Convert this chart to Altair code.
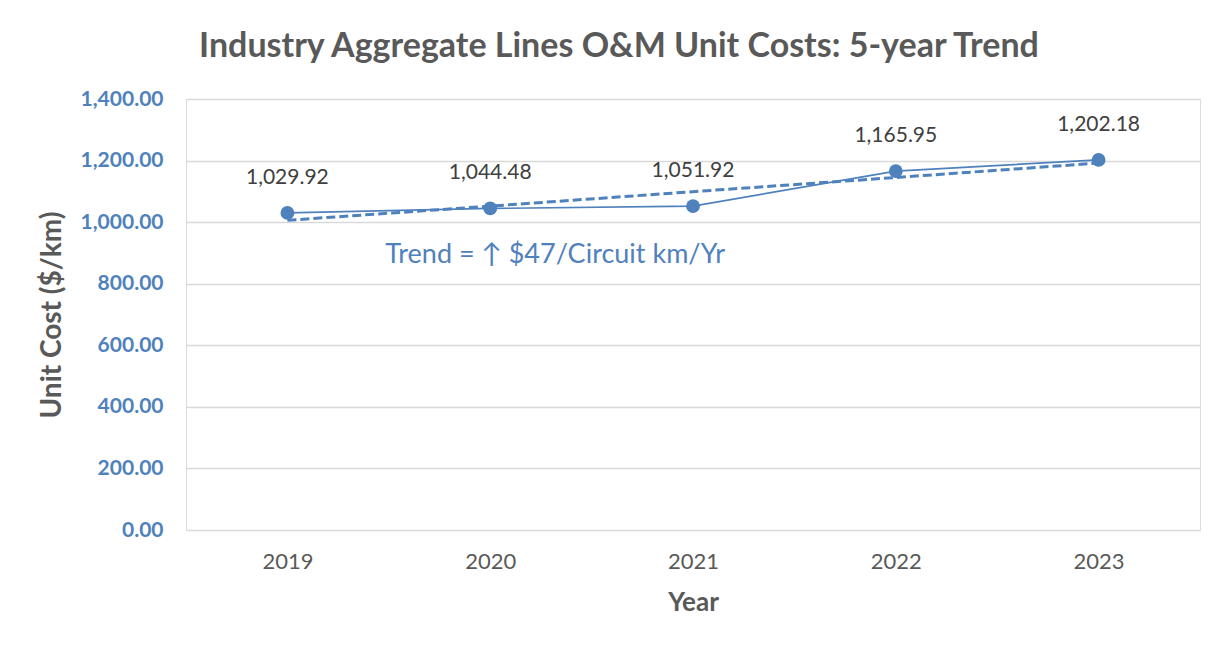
import altair as alt
import pandas as pd

years = ["2019", "2020", "2021", "2022", "2023"]
unit_cost = [1029.92, 1044.48, 1051.92, 1165.95, 1202.18]
trend = [1006, 1052, 1099, 1145, 1192]
y_ticks = [0, 200, 400, 600, 800, 1000, 1200, 1400]
note_text = ["Trend = \u2191 $47/Circuit km/Yr"]
note_year = ["2020"]
note_value = [893]

BLUE = "#4F81BD"
GRAY = "#595959"
FONT = "Lato"

df = pd.DataFrame({"Year": years, "Cost": unit_cost, "Trend": trend})
note = pd.DataFrame({"Year": note_year, "Cost": note_value, "Text": note_text})

x = alt.X("Year:N", sort=years, title="Year",
          scale=alt.Scale(paddingInner=0, paddingOuter=0, align=0.5),
          axis=alt.Axis(labelAngle=0, labelColor=GRAY, labelFontSize=22, labelFont=FONT,
                        labelPadding=21, ticks=False, domainColor="#D9D9D9",
                        titleColor=GRAY, titleFontSize=26, titleFont=FONT, titleFontWeight="bold",
                        titlePadding=17))
y_scale = alt.Scale(domain=[0, 1400])

base = alt.Chart(df)

line = base.mark_line(color=BLUE, strokeWidth=1.7).encode(
    x=x,
    y=alt.Y("Cost:Q", scale=y_scale, title="Unit Cost ($/km)",
            axis=alt.Axis(values=y_ticks, format=",.2f", labelColor=BLUE, labelFontSize=21,
                          labelFont=FONT, labelFontWeight="bold", labelPadding=23,
                          ticks=False, domain=False, gridColor="#D9D9D9", gridWidth=1.3,
                          titleColor=GRAY, titleFontSize=28, titleFont=FONT,
                          titleFontWeight="bold", titlePadding=14)),
)
trend_line = base.mark_line(color=BLUE, strokeWidth=3, strokeDash=[9, 4]).encode(
    x=x, y=alt.Y("Trend:Q", scale=y_scale)
)
points = base.mark_point(filled=True, color=BLUE, size=190, opacity=1).encode(
    x=x, y=alt.Y("Cost:Q", scale=y_scale)
)
labels = base.mark_text(dy=-35, fontSize=21, font=FONT, color="#404040").encode(
    x=x, y=alt.Y("Cost:Q", scale=y_scale), text=alt.Text("Cost:Q", format=",.2f")
)
note_mark = alt.Chart(note).mark_text(fontSize=27, font=FONT, color=BLUE, dx=65).encode(
    x=alt.X("Year:N", sort=years), y=alt.Y("Cost:Q", scale=y_scale), text="Text:N"
)

chart = alt.layer(trend_line, line, points, labels, note_mark).properties(
    width=1014, height=431,
    title=alt.TitleParams("Industry Aggregate Lines O&M Unit Costs: 5-year Trend",
                          fontSize=34, font=FONT, fontWeight="bold", color=GRAY,
                          anchor="middle", frame="bounds", offset=24),
    autosize=alt.AutoSizeParams(type="none"),
    padding={"left": 178, "top": 91, "right": 22, "bottom": 110},
).configure_view(stroke=None).configure(background="white")

chart.save("out.html", embed_options={"renderer": "svg", "actions": False})
